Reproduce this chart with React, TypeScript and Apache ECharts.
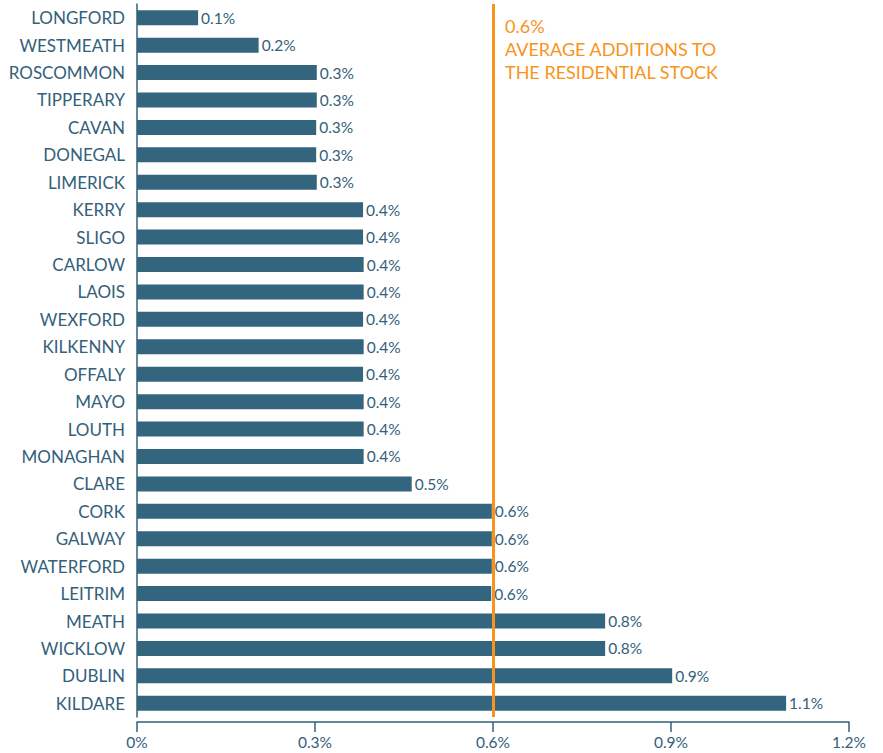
import React, { useEffect, useRef } from "react";
import * as echarts from "echarts";

const counties = [
  "LONGFORD", "WESTMEATH", "ROSCOMMON", "TIPPERARY", "CAVAN", "DONEGAL", "LIMERICK",
  "KERRY", "SLIGO", "CARLOW", "LAOIS", "WEXFORD", "KILKENNY", "OFFALY", "MAYO",
  "LOUTH", "MONAGHAN", "CLARE", "CORK", "GALWAY", "WATERFORD", "LEITRIM", "MEATH",
  "WICKLOW", "DUBLIN", "KILDARE",
];

const additions = [
  0.103, 0.205, 0.303, 0.303, 0.302, 0.302, 0.303,
  0.381, 0.381, 0.382, 0.382, 0.381, 0.382, 0.381, 0.382,
  0.382, 0.382, 0.463, 0.598, 0.598, 0.598, 0.597, 0.789,
  0.789, 0.902, 1.094,
];

const averageValue = 0.6;
const averageText = ["0.6%", "AVERAGE ADDITIONS TO", "THE RESIDENTIAL STOCK"];

const axisMin = 0;
const axisMax = 1.2;
const axisStep = 0.3;

const BLUE = "#34657e";
const TEXT = "#33607a";
const ORANGE = "#f7941d";
const FONT = "Lato, 'Open Sans', sans-serif";

export default function App() {
  const ref = useRef<HTMLDivElement>(null);
  useEffect(() => {
    if (!ref.current) return;
    const chart = echarts.init(ref.current, undefined, { renderer: "svg" });
    chart.setOption({
      animation: false,
      backgroundColor: "#ffffff",
      textStyle: { fontFamily: FONT },
      grid: { left: 137, right: 34, top: 4, bottom: 36, containLabel: false },
      xAxis: {
        type: "value",
        min: axisMin,
        max: axisMax,
        interval: axisStep,
        offset: 5,
        splitLine: { show: false },
        axisLine: { show: true, lineStyle: { color: TEXT, width: 1.5 } },
        axisTick: { show: true, length: 10, inside: false, lineStyle: { color: TEXT, width: 1.5 } },
        axisLabel: {
          color: TEXT,
          fontSize: 15.5,
          fontFamily: FONT,
          margin: 12,
          formatter: (v: number) => (v === 0 ? "0" : v.toFixed(1)) + "%",
        },
      },
      yAxis: {
        type: "category",
        data: counties,
        inverse: true,
        axisLine: { show: true, lineStyle: { color: TEXT, width: 1.5 } },
        axisTick: { show: false },
        axisLabel: { color: TEXT, fontSize: 17, fontFamily: FONT, margin: 12 },
      },
      series: [
        {
          type: "bar",
          data: additions,
          barWidth: 15,
          itemStyle: { color: BLUE },
          label: {
            show: true,
            position: "right",
            distance: 3,
            color: TEXT,
            fontSize: 15.5,
            fontFamily: FONT,
            formatter: (p: any) => p.value.toFixed(1) + "%",
          },
          markLine: {
            silent: true,
            symbol: ["none", "none"],
            lineStyle: { color: ORANGE, width: 3, type: "solid" },
            label: { show: false },
            data: [{ xAxis: averageValue }],
          },
        },
      ],
      graphic: [
        {
          type: "text",
          left: 505,
          top: 14,
          style: {
            text: averageText.join("\n"),
            fill: ORANGE,
            fontSize: 18,
            fontFamily: FONT,
            lineHeight: 23,
          },
        },
      ],
    });
    return () => chart.dispose();
  }, []);
  return (
    <div
      ref={ref}
      style={{ position: "fixed", left: 0, top: 0, width: 883, height: 753 }}
    />
  );
}
